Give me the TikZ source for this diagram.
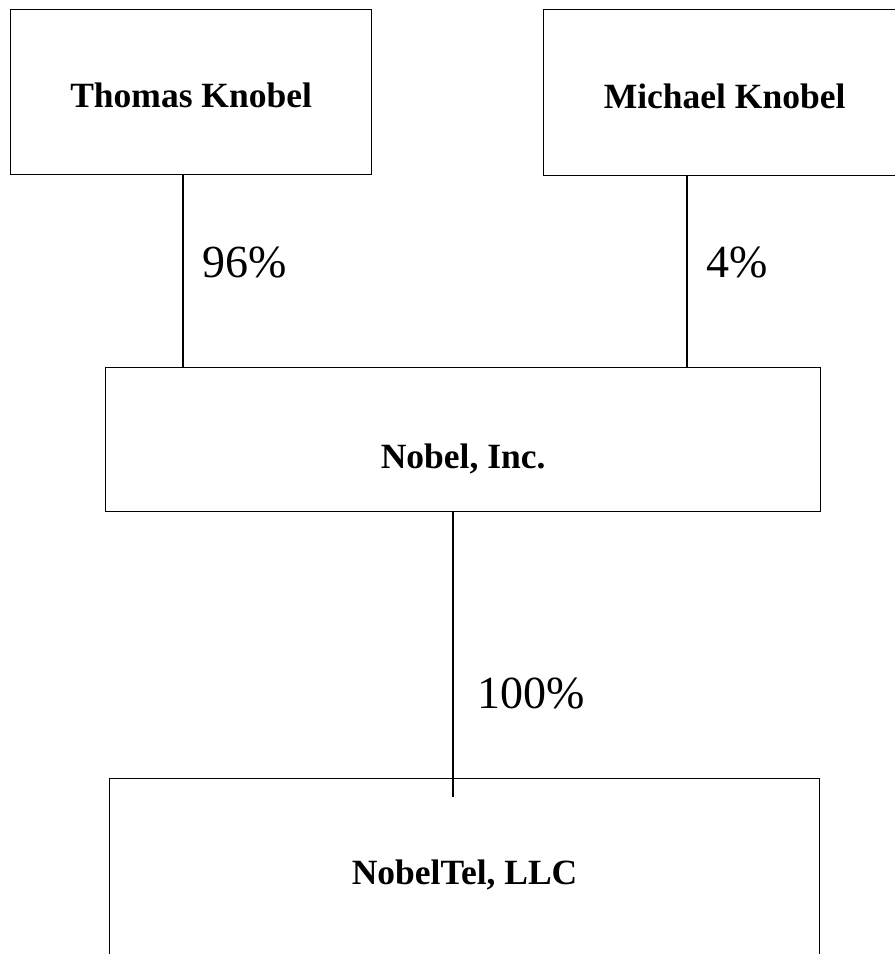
\documentclass[tikz,border=0pt]{standalone}
\usepackage{fontspec}
\setmainfont{Liberation Serif}

\begin{document}
\begin{tikzpicture}[x=1pt,y=-1pt,
  owner/.style={draw, line width=1.2pt, anchor=north west, inner sep=0pt,
    font=\fontsize{35.5}{40}\selectfont\bfseries, text height=31pt, text depth=0pt},
  share/.style={anchor=base west, inner sep=0pt, font=\fontsize{46}{50}\selectfont},
  link/.style={line width=1.2pt}]

\useasboundingbox (0,0) rectangle (895,954);

% define the boxes
  \node[owner, minimum width=361pt, minimum height=165pt] (thomas) at (10,9) {Thomas Knobel};
  \node[owner, minimum width=362pt, minimum height=166pt] (michael) at (543,9) {Michael Knobel};
  \node[owner, minimum width=715pt, minimum height=144pt, text height=58pt] (nobel) at (105,367) {Nobel, Inc.};
  \node[owner, minimum width=710pt, minimum height=180pt] (nobeltel) at (109,778) {NobelTel, LLC};

% columns of the links
  \coordinate (col1) at (183,0);
  \coordinate (col2) at (687,0);
  \coordinate (col3) at (453,0);
  \coordinate (tail) at (453,797);

% define the links
  \draw[link] (thomas.south -| col1) -- (nobel.north -| col1);
  \draw[link] (michael.south -| col2) -- (nobel.north -| col2);
  \draw[link] (nobel.south -| col3) -- (tail);

% the shares
  \node[share] (p96) at (202,277) {96\%};
  \node[share] (p4) at (706,277) {4\%};
  \node[share] (p100) at (477,708) {100\%};

\end{tikzpicture}
\end{document}
